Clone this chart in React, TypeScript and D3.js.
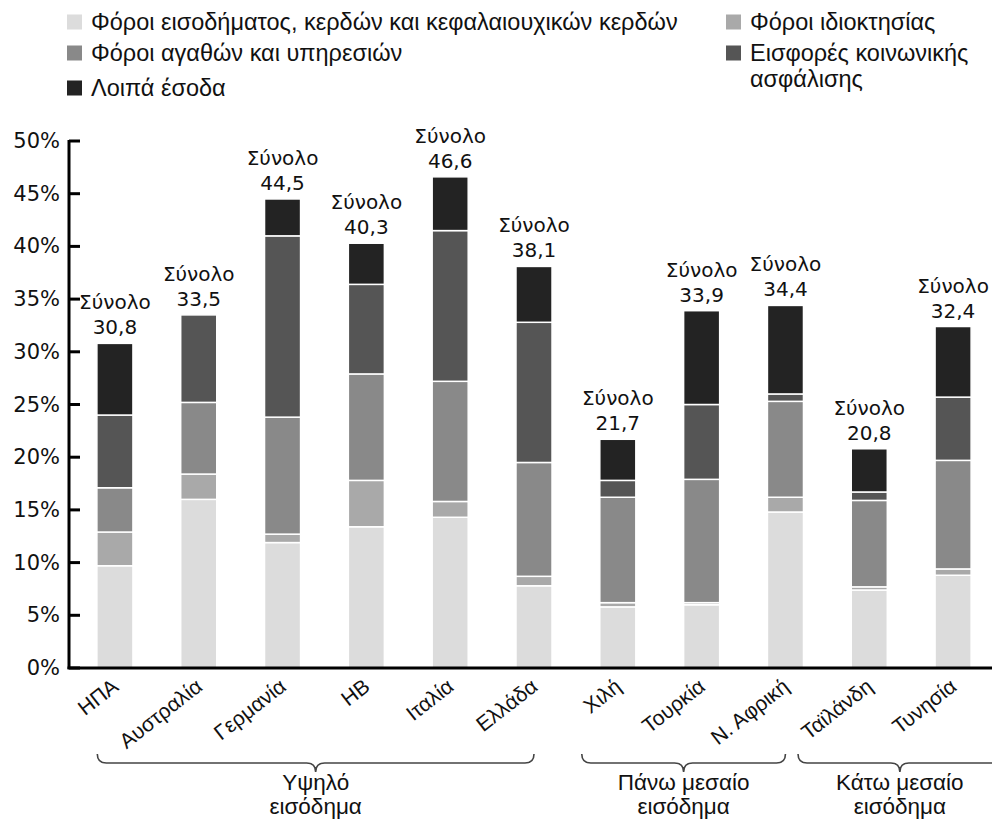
import React from 'react';
import * as d3 from 'd3';

// Countries and total revenue (% of GDP)
const countries = ['ΗΠΑ', 'Αυστραλία', 'Γερμανία', 'ΗΒ', 'Ιταλία', 'Ελλάδα', 'Χιλή', 'Τουρκία', 'Ν. Αφρική', 'Ταϊλάνδη', 'Τυνησία'];
const totals = [30.8, 33.5, 44.5, 40.3, 46.6, 38.1, 21.7, 33.9, 34.4, 20.8, 32.4];

// Components, bottom to top
const incomeTax = [9.7, 16.0, 11.9, 13.4, 14.3, 7.8, 5.8, 6.0, 14.8, 7.4, 8.8];
const propertyTax = [3.2, 2.4, 0.8, 4.4, 1.5, 0.9, 0.4, 0.2, 1.4, 0.3, 0.6];
const goodsTax = [4.2, 6.8, 11.1, 10.1, 11.4, 10.8, 10.0, 11.7, 9.1, 8.2, 10.3];
const socialSecurity = [6.9, 8.3, 17.2, 8.5, 14.3, 13.3, 1.6, 7.1, 0.7, 0.8, 6.0];
const otherRevenue = [6.8, 0, 3.5, 3.9, 5.1, 5.3, 3.9, 8.9, 8.4, 4.1, 6.7];

const seriesKeys = ['income', 'property', 'goods', 'social', 'other'];
const seriesLabels = [
  'Φόροι εισοδήματος, κερδών και κεφαλαιουχικών κερδών',
  'Φόροι ιδιοκτησίας',
  'Φόροι αγαθών και υπηρεσιών',
  'Εισφορές κοινωνικής ασφάλισης',
  'Λοιπά έσοδα',
];
const seriesColors = ['#dcdcdc', '#a9a9a9', '#898989', '#555555', '#232323'];

const yTicks = [0, 5, 10, 15, 20, 25, 30, 35, 40, 45, 50];

const groups = [
  { lines: ['Υψηλό', 'εισόδημα'], from: 0, to: 5 },
  { lines: ['Πάνω μεσαίο', 'εισόδημα'], from: 6, to: 8 },
  { lines: ['Κάτω μεσαίο', 'εισόδημα'], from: 9, to: 10 },
];

const W = 992;
const H = 819;
const narrow = '"Liberation Sans", Arial, sans-serif';
const wide = '"DejaVu Sans", Verdana, sans-serif';

export default function App() {
  const rows = countries.map((c, i) => ({
    country: c,
    income: incomeTax[i],
    property: propertyTax[i],
    goods: goodsTax[i],
    social: socialSecurity[i],
    other: otherRevenue[i],
  }));
  const stacked = d3.stack<any>().keys(seriesKeys)(rows);

  const x = d3.scaleBand().domain(countries).range([73, 995]);
  const step = x.step();
  const barW = step * 0.43;
  const cx = (c: string) => (x(c) ?? 0) + step / 2;
  const y = d3.scaleLinear().domain([0, 50]).range([668, 141]);

  const axisX = 69;

  // brace extents, in band steps relative to first/last centre of group
  const braceSpan = [[-0.21, 0], [-0.43, 0], [-0.85, 0.58]];
  const yTop = 754, yLine = 763, yTip = 772;
  const bracePath = (x0: number, x1: number) => {
    const m = (x0 + x1) / 2;
    const r = 9;
    return `M${x0},${yTop} Q${x0},${yLine} ${x0 + r},${yLine} L${m - r},${yLine} Q${m},${yLine} ${m},${yTip} Q${m},${yLine} ${m + r},${yLine} L${x1 - r},${yLine} Q${x1},${yLine} ${x1},${yTop}`;
  };

  const legendItems = [
    { i: 0, x: 67, y: 22 },
    { i: 2, x: 67, y: 53 },
    { i: 4, x: 67, y: 88 },
    { i: 1, x: 726, y: 22 },
    { i: 3, x: 726, y: 53 },
  ];

  return (
    <div style={{ position: 'absolute', left: 0, top: 0 }}>
      <svg width={W} height={H} viewBox={`0 0 ${W} ${H}`} style={{ display: 'block', background: '#fff' }}>
        {/* legend */}
        {legendItems.map(({ i, x: lx, y: ly }) => {
          const words = i === 3 ? ['Εισφορές κοινωνικής', 'ασφάλισης'] : [seriesLabels[i]];
          return (
            <g key={i}>
              <rect x={lx} y={ly - 7.5} width={15} height={15} fill={seriesColors[i]} />
              {words.map((w, k) => (
                <text key={k} x={lx + 24} y={ly + 8 + k * 26} fontFamily={narrow} fontSize={23.5} fill="#111">
                  {w}
                </text>
              ))}
            </g>
          );
        })}

        {/* bars */}
        {stacked.map((s, si) => (
          <g key={s.key} fill={seriesColors[si]}>
            {s.map((d, i) => {
              const h = y(d[0]) - y(d[1]);
              if (h <= 0) return null;
              return (
                <rect
                  key={i}
                  x={cx(countries[i]) - barW / 2}
                  y={y(d[1])}
                  width={barW}
                  height={h}
                  stroke="#fff"
                  strokeWidth={1.5}
                />
              );
            })}
          </g>
        ))}

        {/* total labels */}
        {countries.map((c, i) => (
          <g key={c} fontFamily={wide} fontSize={20} fill="#111" textAnchor="middle">
            <text x={cx(c)} y={y(totals[i]) - 34}>Σύνολο</text>
            <text x={cx(c)} y={y(totals[i]) - 9}>{totals[i].toFixed(1).replace('.', ',')}</text>
          </g>
        ))}

        {/* y axis */}
        <line x1={axisX} x2={axisX} y1={y(50) - 1} y2={y(0) + 1} stroke="#000" strokeWidth={3} />
        {yTicks.map(t => (
          <g key={t}>
            <line x1={axisX} x2={axisX + 11} y1={y(t)} y2={y(t)} stroke="#000" strokeWidth={3} />
            <text x={60} y={y(t) + 7} textAnchor="end" fontFamily={wide} fontSize={21} fill="#111">
              {t}%
            </text>
          </g>
        ))}
        {/* x axis */}
        <line x1={axisX - 1.5} x2={W} y1={y(0)} y2={y(0)} stroke="#000" strokeWidth={3} />

        {/* category labels */}
        {countries.map(c => (
          <text
            key={c}
            transform={`translate(${cx(c) + 5},${689}) rotate(-38)`}
            textAnchor="end"
            fontFamily={narrow}
            fontSize={21}
            fill="#111"
          >
            {c}
          </text>
        ))}

        {/* income group braces */}
        {groups.map((g, gi) => {
          const x0 = cx(countries[g.from]) + braceSpan[gi][0] * step;
          const x1 = cx(countries[g.to]) + braceSpan[gi][1] * step;
          const m = (x0 + x1) / 2;
          return (
            <g key={gi}>
              <path d={bracePath(x0, x1)} fill="none" stroke="#444" strokeWidth={1.6} />
              {g.lines.map((l, k) => (
                <text key={k} x={m} y={790 + k * 24} textAnchor="middle" fontFamily={narrow} fontSize={22.5} fill="#111">
                  {l}
                </text>
              ))}
            </g>
          );
        })}
      </svg>
    </div>
  );
}
